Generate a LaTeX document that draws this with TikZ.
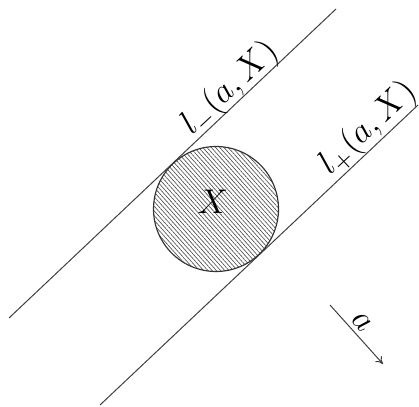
\documentclass[tikz,border=0pt]{standalone}
\usetikzlibrary{patterns.meta,arrows.meta}
\begin{document}
\begin{tikzpicture}[x=0.35pt,y=-0.35pt,
  thinline/.style={line width=0.35pt,draw=black!75},
  lab/.style={font=\fontsize{11.5}{14}\selectfont,inner sep=0pt}]
\useasboundingbox (0,0) rectangle (419,406);
\coordinate (l1a) at (9,318);
\coordinate (l1b) at (336,9);
\coordinate (l2a) at (100,405);
\coordinate (l2b) at (418,105);
\draw[thinline] (l1a) -- (l1b);
\draw[thinline] (l2a) -- (l2b);
\node[circle,draw=black!80,line width=0.4pt,minimum size=43.75pt,inner sep=0pt,
  preaction={fill=white},
  pattern={Lines[angle=-48,distance=1.1pt,line width=0.22pt]},pattern color=black!70] (X) at (216,209) {};
\node[lab,font=\fontsize{12.5}{14}\selectfont] (Xl) at (213,202) {$X$};
\node[lab,rotate=43] (lm) at (230,88) {$l_-(a,X)$};
\node[lab,rotate=43] (lp) at (368,128) {$l_+(a,X)$};
\coordinate (aa) at (330,305);
\coordinate (ab) at (383,364);
\draw[thinline,-{To[length=2.5pt,width=3pt]}] (aa) -- (ab);
\node[lab,rotate=-48] (al) at (362,322) {$a$};
\end{tikzpicture}
\end{document}
